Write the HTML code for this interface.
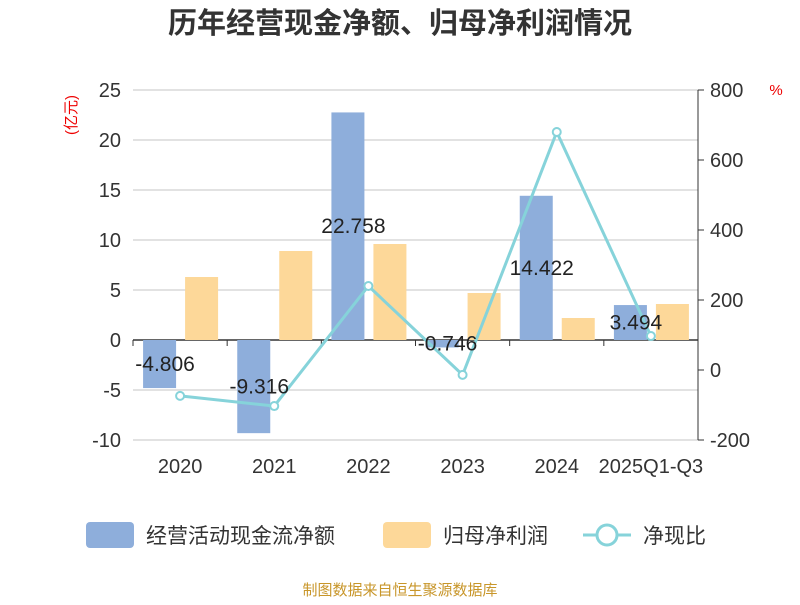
<!DOCTYPE html>
<html><head><meta charset="utf-8"><style>
body{margin:0;background:#fff;}
svg text{font-family:"Liberation Sans","Noto Sans CJK SC",sans-serif;}
</style></head><body>
<svg id="chart" width="800" height="600" xmlns="http://www.w3.org/2000/svg">
<text x="400" y="33" text-anchor="middle" font-size="29" font-weight="bold" fill="#333">历年经营现金净额、归母净利润情况</text>
<text x="76" y="115" transform="rotate(-90 76 115)" text-anchor="middle" font-size="15" fill="#e00">(亿元)</text>
<text x="776" y="95" text-anchor="middle" font-size="15" fill="#e00">%</text>
<g id="grid"></g><g id="bars"></g><g id="line"></g><g id="labels"></g>
<g>
<rect x="86" y="522" width="48" height="26" rx="4" fill="#8eaedb"/>
<text x="146" y="543" font-size="21" fill="#333">经营活动现金流净额</text>
<rect x="383" y="522" width="48" height="26" rx="4" fill="#fdd899"/>
<text x="443" y="543" font-size="21" fill="#333">归母净利润</text>
<line x1="583" y1="535" x2="631" y2="535" stroke="#86d3da" stroke-width="3"/>
<circle cx="607" cy="535" r="10" fill="#fff" stroke="#86d3da" stroke-width="3"/>
<text x="643" y="543" font-size="21" fill="#333">净现比</text>
</g>
<text x="400" y="595" text-anchor="middle" font-size="15" fill="#c8962a">制图数据来自恒生聚源数据库</text>
</svg>
<script>
const categories=["2020","2021","2022","2023","2024","2025Q1-Q3"];
const cashValues=[-4.806,-9.316,22.758,-0.746,14.422,3.494];
const profitValues=[6.3,8.9,9.6,4.7,2.2,3.6];
const ratioValues=[-74,-103,240,-14,680,97];
const leftTicks=[-10,-5,0,5,10,15,20,25];
const rightTicks=[-200,0,200,400,600,800];
const NS="http://www.w3.org/2000/svg";
const L=133,R=698,T=90,B=440;
const yL=v=>T+(25-v)*(B-T)/35;
const yR=v=>T+(800-v)*(B-T)/1000;
const bw=(R-L)/categories.length;
const cx=i=>L+bw*(i+0.5);
function mk(tag,attrs,parent,txt){const e=document.createElementNS(NS,tag);for(const k in attrs)e.setAttribute(k,attrs[k]);if(txt!==undefined)e.textContent=txt;document.getElementById(parent).appendChild(e);return e;}
leftTicks.forEach(t=>{
 const g=mk('line',{x1:L,x2:R,y1:yL(t),y2:yL(t),stroke:t===0?'#333':'#c4c4c4','stroke-width':t===0?1.5:1},'grid');
 
 
 const tx=mk('text',{x:L-12,y:yL(t)+7,'text-anchor':'end','font-size':20,fill:'#333'},'grid',String(t));
 
 
});
rightTicks.forEach(t=>{
 const tk=mk('line',{x1:R,x2:R+6,y1:yR(t),y2:yR(t),stroke:'#333'},'grid');
 
 
 const tx=mk('text',{x:R+12,y:yR(t)+7,'font-size':20,fill:'#333'},'grid',String(t));
 
 
});
const ax=mk('line',{x1:R,x2:R,y1:T,y2:B,stroke:'#333'},'grid');


categories.forEach((c,i)=>{
 const tk=mk('line',{x1:L+bw*i,x2:L+bw*i,y1:yL(0),y2:yL(0)+6,stroke:'#333'},'grid');
 
 
 const tx=mk('text',{x:cx(i),y:473,'text-anchor':'middle','font-size':20,fill:'#333'},'grid',c);
 
 
 const v=cashValues[i];
 const b=mk('rect',{x:cx(i)-37,y:Math.min(yL(v),yL(0)),width:33,height:Math.abs(yL(v)-yL(0)),fill:'#8eaedb'},'bars');
 
 
 const p=profitValues[i];
 const b2=mk('rect',{x:cx(i)+5,y:Math.min(yL(p),yL(0)),width:33,height:Math.abs(yL(p)-yL(0)),fill:'#fdd899'},'bars');
 
 
 const lb=mk('text',{x:cx(i)-15,y:yL(v/2)+7,'text-anchor':'middle','font-size':21,fill:'#222'},'labels',String(v));
 
 
});
const pts=ratioValues.map((v,i)=>cx(i)+','+yR(v)).join(' ');
const pl=mk('polyline',{points:pts,fill:'none',stroke:'#86d3da','stroke-width':3},'line');


ratioValues.forEach((v,i)=>{
 const c=mk('circle',{cx:cx(i),cy:yR(v),r:4,fill:'#fff',stroke:'#86d3da','stroke-width':2},'line');
 
 
});
</script>
</body></html>
